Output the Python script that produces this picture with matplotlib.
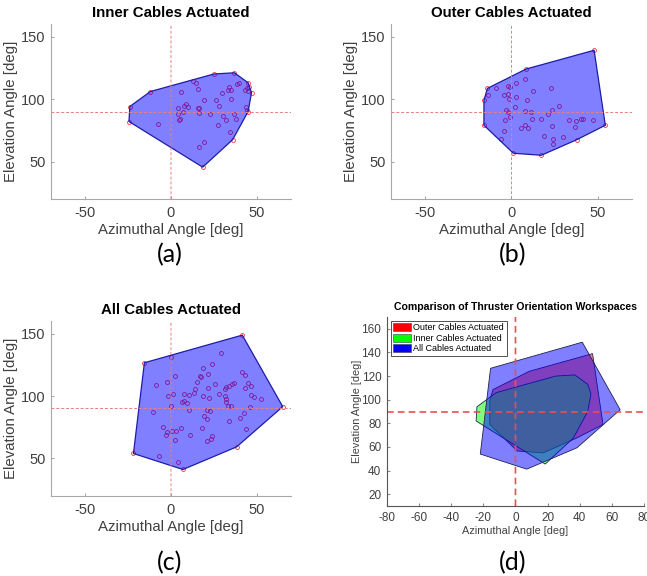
import matplotlib
matplotlib.use("Agg")
import matplotlib.pyplot as plt
from matplotlib.patches import Patch
import numpy as np

plt.rcParams['font.family'] = ['Liberation Sans', 'DejaVu Sans']
plt.rcParams['axes.unicode_minus'] = False

# orientation samples (azimuth, elevation) in degrees
inner_az = [-24.5, -24, -12, 25, 37, 45, 47, 45, 36, 18.5,
            13.1, 14.4, 6.0, 16.0, 29.9, 34.0, 34.8, 33.2, 38.7, 39.6, 43.0, 44.1,
            45.1, 45.7, 35.3, 19.5, 26.2, 28.3, 7.6, 9.0, 9.9, 4.3, 16.6, 15.6,
            6.8, 4.3, 16.2, 23.0, 30.5, 32.0, 36.7, 38.1, 43.6, 44.5, 5.1, 4.7,
            -7.4, 27.7, 34.2, 19.3, 16.4]
inner_el = [82, 94, 106, 120, 121, 113, 105, 90, 67.5, 45.5,
            114.1, 112.5, 105.8, 107.9, 105.0, 109.5, 107.2, 106.9, 111.7, 112.7, 107.2, 108.5,
            106.1, 109.5, 99.7, 98.9, 98.9, 94.1, 94.1, 95.7, 93.3, 92.8, 93.1, 92.5,
            89.3, 88.3, 88.5, 88.0, 86.1, 83.2, 88.3, 84.3, 93.3, 91.2, 84.0, 83.5,
            80.0, 79.5, 73.7, 66.0, 61.4]

outer_az = [-14, 8.5, 48, 54.5, 38, 17.3, 1.1, -6, -16, -16, -13.8,
            -9.0, -1.8, -0.9, 2.6, 7.8, -2.2, -4.4, -1.6, 2.6, 12.5, 9.0, 22.9,
            -3.2, -2.0, 2.0, 8.0, 11.1, -0.7, -3.8, 12.1, 16.9, 21.4, 23.5, 27.7,
            -4.4, 5.3, 7.7, 9.6, 23.7, 18.9, 24.1, 23.9, 29.7, 33.4, 36.7, 37.3,
            40.2, 41.5, 47.2]
outer_el = [108.5, 124, 139, 79, 67.5, 55, 56.6, 68, 79, 99, 103,
            108.7, 110.1, 109.5, 113, 115.9, 104.2, 102.9, 100.2, 101.3, 106.6, 99.4, 109,
            91.5, 89.6, 93.3, 90.7, 89.3, 85.6, 83.0, 83.8, 84.3, 87.7, 91.2, 94.4,
            74.2, 76.6, 79.5, 77.1, 78.4, 70.7, 68.1, 63.8, 69.9, 83.5, 77.4, 82.4,
            84.3, 83.8, 83.5]

all_az = [-15.5, 41.6, 65.2, 38.3, 7.0, -21.9, 0.0,
          29.3, 18.9, 24.2, 2.5, -8.8, -2.4, 17.0, 17.8, 21.5, 15.0, 21.7, 25.4,
          13.9, 13.7, 32.0, 33.6, 35.7, 36.5, 31.6, 41.2, 43.4, 44.9, 46.7, 43.0,
          1.3, -2.0, 7.6, 10.5, 18.7, 22.4, 28.3, 31.6, 32.0, 32.2, 33.2, 35.0,
          46.5, 48.4, 52.5, 6.2, 7.6, 9.6, 0.0, 10.7, 21.3, 23.0, 46.1, 42.6,
          -10.4, 19.3, 20.9, 40.4, 33.8, 18.2, 43.9, -4.9, -2.2, -3.0, 0.8, 2.7,
          5.8, 11.1, 24.2, 23.6, 20.9, 2.5, -7.2, 4.1]
all_el = [126.6, 148.7, 91.5, 59.3, 41.2, 54.0, 130.9,
          134.8, 122.6, 125.8, 115.7, 108.8, 110.9, 116.0, 115.4, 117.8, 111.2, 106.4, 109.6,
          105.3, 102.7, 107.4, 108.0, 109.8, 110.4, 105.6, 118.9, 116.8, 110.1, 108.2, 106.4,
          101.9, 99.7, 101.9, 100.8, 99.7, 98.1, 101.6, 100.0, 97.6, 95.5, 92.3, 92.0,
          101.1, 99.2, 97.3, 95.5, 96.3, 94.7, 91.8, 88.8, 88.8, 88.3, 91.0, 86.4,
          87.0, 84.0, 81.6, 82.7, 80.3, 74.7, 73.9, 75.3, 71.5, 68.6, 72.1, 72.1,
          74.2, 68.6, 67.8, 65.7, 64.1, 64.6, 52.1, 46.8]

titles = ["Inner Cables Actuated", "Outer Cables Actuated", "All Cables Actuated"]
panel_tags = ["(a)", "(b)", "(c)", "(d)"]
legend_labels = ["Outer Cables Actuated", "Inner Cables Actuated", "All Cables Actuated"]
ref_az, ref_el = 0, 90


def convex_hull(xs, ys):
    pts = sorted(set(zip(xs, ys)))

    def cross(o, a, b):
        return (a[0] - o[0]) * (b[1] - o[1]) - (a[1] - o[1]) * (b[0] - o[0])

    lower, upper = [], []
    for p in pts:
        while len(lower) >= 2 and cross(lower[-2], lower[-1], p) <= 0:
            lower.pop()
        lower.append(p)
    for p in reversed(pts):
        while len(upper) >= 2 and cross(upper[-2], upper[-1], p) <= 0:
            upper.pop()
        upper.append(p)
    return np.array(lower[:-1] + upper[:-1])


fig = plt.figure(figsize=(6.47, 5.76), dpi=100)

rects = [[0.0788, 0.6545, 0.3709, 0.3038],
         [0.6043, 0.6545, 0.3725, 0.3038],
         [0.0788, 0.1389, 0.3709, 0.3038]]
sets = [(inner_az, inner_el), (outer_az, outer_el), (all_az, all_el)]
hulls = {}

for rect, (az, el), title, name in zip(rects, sets, titles, ["inner", "outer", "all"]):
    ax = fig.add_axes(rect)
    hull = convex_hull(az, el)
    hulls[name] = hull
    ax.plot(az, el, 'o', ms=2.8, mfc='none', mec='#ff3030', mew=0.6, zorder=2)
    ax.fill(hull[:, 0], hull[:, 1], facecolor=(0, 0, 1, 0.5), edgecolor='#1c1ca8',
            lw=0.9, zorder=3)
    ax.axvline(ref_az, color='#e88080', ls='--', lw=0.7, dashes=(3, 2), zorder=4,
               snap=False)
    ax.axhline(ref_el, color='#e88080', ls='--', lw=0.7, dashes=(3, 2), zorder=4)
    ax.set_xlim(-70, 70)
    ax.set_ylim(20, 160)
    ax.set_xticks([-50, 0, 50])
    ax.set_yticks([50, 100, 150])
    for s in ['top', 'right']:
        ax.spines[s].set_visible(False)
    for s in ['left', 'bottom']:
        ax.spines[s].set_color('#a8a8a8')
    ax.tick_params(direction='in', length=2, color='#a8a8a8', labelsize=10.5,
                   labelcolor='#404040')
    ax.tick_params(axis='x', pad=5)
    ax.tick_params(axis='y', pad=4)
    ax.set_title(title, fontsize=10.8, fontweight='bold', pad=5)
    ax.set_xlabel("Azimuthal Angle [deg]", fontsize=10.8, color='#404040', labelpad=2)
    ax.set_ylabel("Elevation Angle [deg]", fontsize=10.8, color='#404040', labelpad=2)

# comparison panel
axd = fig.add_axes([0.5981, 0.1215, 0.3972, 0.3281])
colors = {"outer": (1, 0, 0, 0.5), "inner": (0, 1, 0, 0.5), "all": (0, 0, 1, 0.5)}
for name in ["outer", "inner", "all"]:
    h = hulls[name]
    axd.fill(h[:, 0], h[:, 1], facecolor=colors[name], edgecolor='#202050', lw=0.6)
axd.axvline(ref_az, color='#e85050', ls='--', lw=1.2, dashes=(4, 2.5), snap=False)
axd.axhline(ref_el, color='#e85050', ls='--', lw=1.2, dashes=(4, 2.5))
axd.set_xlim(-80, 80)
axd.set_ylim(10, 170)
axd.set_xticks(np.arange(-80, 81, 20))
axd.set_yticks(np.arange(20, 161, 20))
for s in ['top', 'right']:
    axd.spines[s].set_visible(False)
for s in ['left', 'bottom']:
    axd.spines[s].set_color('#555555')
axd.tick_params(direction='in', length=2, color='#888888', labelsize=8.5,
                labelcolor='#404040', pad=4)
axd.set_title("Comparison of Thruster Orientation Workspaces", fontsize=7.6,
              fontweight='bold', pad=5)
axd.set_xlabel("Azimuthal Angle [deg]", fontsize=7.8, color='#404040', labelpad=2)
axd.set_ylabel("Elevation Angle [deg]", fontsize=7.8, color='#404040', labelpad=0)
handles = [Patch(facecolor='#ff0000', edgecolor='#404040', lw=0.4),
           Patch(facecolor='#00ff00', edgecolor='#404040', lw=0.4),
           Patch(facecolor='#0000ff', edgecolor='#404040', lw=0.4)]
leg = axd.legend(handles, legend_labels, loc='upper left', fontsize=6.5,
                 fancybox=False, framealpha=1, edgecolor='#333333',
                 handlelength=2.0, handleheight=1.0, handletextpad=0.2,
                 labelspacing=0.15, borderpad=0.3, borderaxespad=0.4)
leg.get_frame().set_linewidth(0.6)

# panel tags
for tag, (x, y) in zip(panel_tags, [(170, 255), (513, 255), (170, 563), (513, 563)]):
    fig.text(x / 647, 1 - y / 576, tag, fontsize=18, family=['Lato', 'DejaVu Sans'],
             ha='center', va='center')

fig.savefig("out.png", dpi=100)
